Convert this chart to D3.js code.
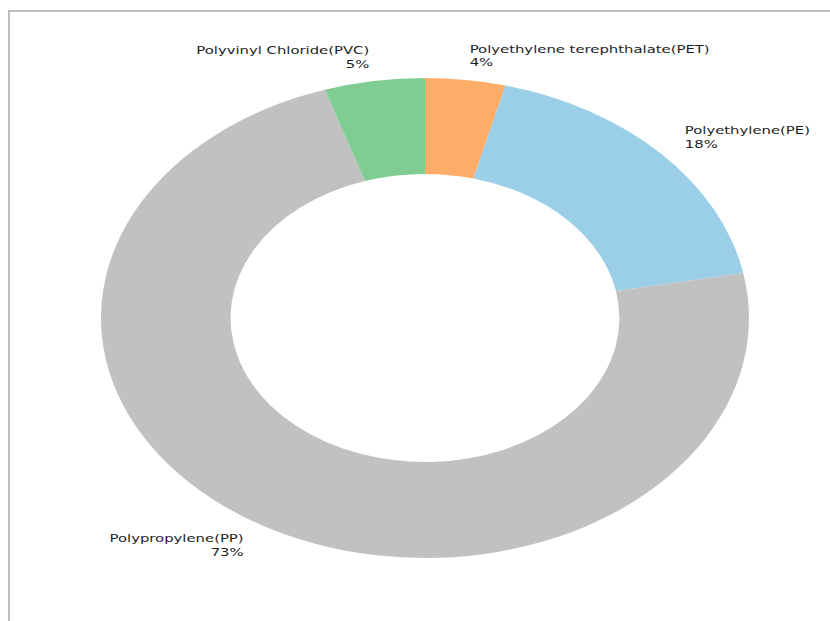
<!DOCTYPE html>
<html>
<head>
<meta charset="utf-8">
<script src="https://cdn.jsdelivr.net/npm/d3@7"></script>
<style>
  html, body { margin: 0; padding: 0; background: #fff; }
  svg { display: block; }
</style>
</head>
<body>
<svg id="chart" width="830" height="621"></svg>
<script>
// Plastic types and their share of the total (percent)
const categories = [
  "Polyethylene terephthalate(PET)",
  "Polyethylene(PE)",
  "Polypropylene(PP)",
  "Polyvinyl Chloride(PVC)"
];
const values = [4, 18, 73, 5];
const colors = ["#ffac69", "#9bcfe7", "#c1c1c1", "#7fcd93"];

const width = 830, height = 621;
const cx = 425, cy = 318;
const outerR = 240, innerR = 144;
const stretchX = 1.35;   // horizontal stretch of the whole figure

const svg = d3.select("#chart");

// frame lines along the top and left edge
svg.append("line").attr("x1", 8).attr("x2", width).attr("y1", 11).attr("y2", 11)
  .attr("stroke", "#bcbcbc").attr("stroke-width", 2);
svg.append("line").attr("x1", 9).attr("x2", 9).attr("y1", 10).attr("y2", height)
  .attr("stroke", "#bcbcbc").attr("stroke-width", 2);

const data = categories.map((c, i) => ({ name: c, value: values[i], color: colors[i] }));
const total = d3.sum(values);

const pie = d3.pie().value(d => d.value).sort(null)
  .startAngle(0).endAngle(2 * Math.PI);
const arcs = pie(data);

const arc = d3.arc().innerRadius(innerR).outerRadius(outerR);

const g = svg.append("g")
  .attr("transform", `translate(${cx},${cy}) scale(${stretchX},1)`);

g.selectAll("path.slice")
  .data(arcs)
  .join("path")
  .attr("class", "slice")
  .attr("d", arc)
  .attr("fill", d => d.data.color);

// labels outside the ring, at 1.1 x outer radius
const fontSize = 11;
const lineH = fontSize * 1.2;
const labels = g.selectAll("text.lbl")
  .data(arcs)
  .join("text")
  .attr("class", "lbl")
  .attr("font-family", "DejaVu Sans, sans-serif")
  .attr("font-size", fontSize)
  .attr("fill", "#1e1e1e")
  .each(function (d) {
    const mid = (d.startAngle + d.endAngle) / 2;
    const x = Math.sin(mid) * outerR * 1.1;
    const y = -Math.cos(mid) * outerR * 1.1;
    const anchor = x >= 0 ? "start" : "end";
    const t = d3.select(this).attr("text-anchor", anchor);
    const pct = d3.format(".0f")(d.data.value / total * 100) + "%";
    [d.data.name, pct].forEach((s, i) => {
      t.append("tspan")
        .attr("x", x)
        .attr("y", y + (i - 0.5) * lineH)
        .attr("dominant-baseline", "central")
        .text(s);
    });
  });
</script>
</body>
</html>
